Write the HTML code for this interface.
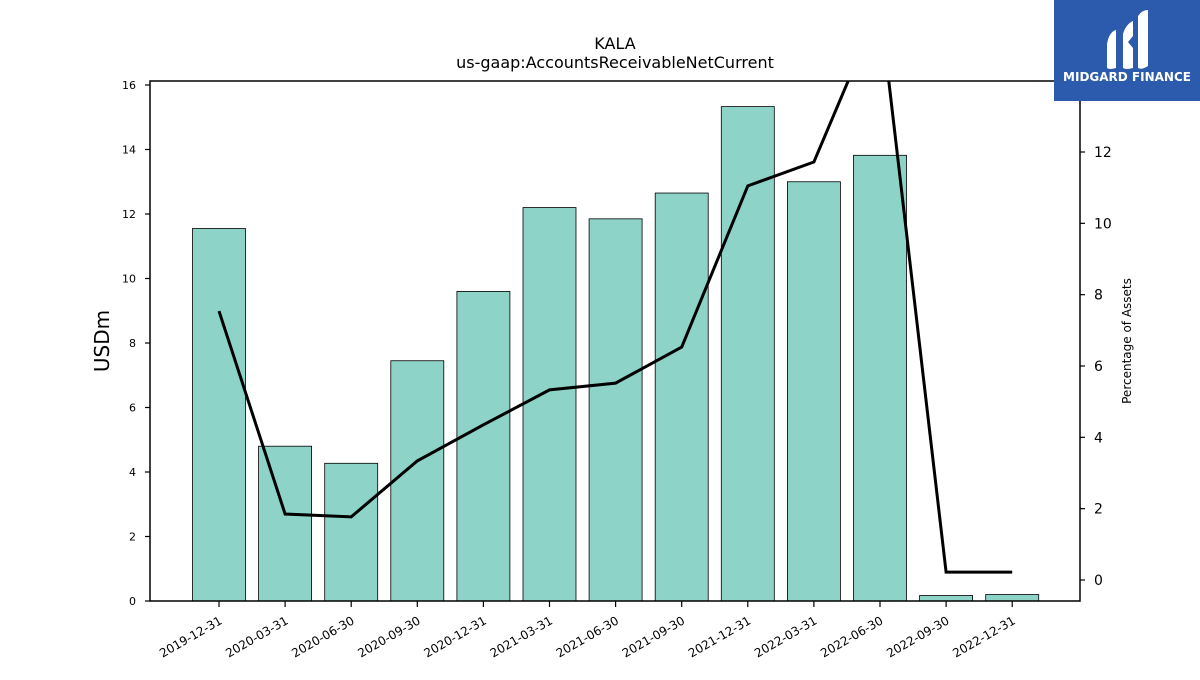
<!DOCTYPE html>
<html><head><meta charset="utf-8"><style>
body{margin:0;background:#fff;}
svg text{font-family:"DejaVu Sans","Liberation Sans",sans-serif;fill:#000;}
</style></head><body>
<svg width="1200" height="675" viewBox="0 0 1200 675" xmlns="http://www.w3.org/2000/svg">
<text x="615" y="49" font-size="16" text-anchor="middle">KALA</text>
<text x="615" y="68" font-size="16" text-anchor="middle">us-gaap:AccountsReceivableNetCurrent</text>
<g id="bars"></g>
<g id="line"></g>
<g id="axes"></g>
<text transform="translate(109,341) rotate(-90)" font-size="20" text-anchor="middle">USDm</text>
<text transform="translate(1131,341) rotate(-90)" font-size="12" text-anchor="middle">Percentage of Assets</text>
<g>
<rect x="1054" y="0" width="146" height="101" fill="#2c5aad"/>
<path d="M1107 44 Q1109 32 1116 30 L1116 68 Q1109 70 1107 68 Z" fill="#fff"/>
<path d="M1123 34 Q1126 24 1133 21 L1133 36 L1128 42 L1133 48 L1133 68 Q1126 70 1123 68 Z" fill="#fff"/>
<path d="M1138 16 Q1142 10 1148 10 L1148 66 Q1142 70 1138 68 Z" fill="#fff"/>
<text x="1127" y="81" font-size="12" font-weight="bold" text-anchor="middle" style="fill:#fff">MIDGARD FINANCE</text>
</g>
</svg>
<script>
const categories=["2019-12-31","2020-03-31","2020-06-30","2020-09-30","2020-12-31","2021-03-31","2021-06-30","2021-09-30","2021-12-31","2022-03-31","2022-06-30","2022-09-30","2022-12-31"];
const barValues=[11.55,4.8,4.27,7.45,9.6,12.2,11.85,12.65,15.33,13.0,13.82,0.17,0.2];
const pctValues=[7.54,1.85,1.77,3.34,4.35,5.33,5.52,6.53,11.05,11.72,16.1,0.22,0.22];
const leftTicks=[0,2,4,6,8,10,12,14,16];
const rightTicks=[0,2,4,6,8,10,12];
const NS="http://www.w3.org/2000/svg";
const X0=150,X1=1080,Y0=81,Y1=601;
const yL=v=>601-v*(516/16);
const yR=v=>580-v*(428/12);
const xC=i=>219+i*66.1;
function mk(t,a,p){const e=document.createElementNS(NS,t);for(const k in a)e.setAttribute(k,a[k]);p.appendChild(e);return e;}
const bars=document.getElementById('bars'),line=document.getElementById('line'),axes=document.getElementById('axes');
barValues.forEach((v,i)=>{
 const r=mk('rect',{x:xC(i)-26.5,y:yL(v),width:53,height:yL(0)-yL(v),fill:'#8dd3c7',stroke:'#000','stroke-width':0.8},bars);
 
 
});
const cp=mk('clipPath',{id:'cp'},line);mk('rect',{x:X0,y:Y0,width:X1-X0,height:Y1-Y0},cp);
const pl=mk('polyline',{points:pctValues.map((v,i)=>xC(i)+','+yR(v)).join(' '),fill:'none',stroke:'#000','stroke-width':3,'clip-path':'url(#cp)'},line);


const fr=mk('rect',{x:X0,y:Y0,width:X1-X0,height:Y1-Y0,fill:'none',stroke:'#000','stroke-width':1.5},axes);


leftTicks.forEach(v=>{
 mk('line',{x1:X0-5,x2:X0,y1:yL(v),y2:yL(v),stroke:'#000','stroke-width':1.2},axes);
 const t=mk('text',{x:X0-14,y:yL(v)+4,'font-size':11,'text-anchor':'end'},axes);t.textContent=v;
 
 
});
rightTicks.forEach(v=>{
 mk('line',{x1:X1,x2:X1+5,y1:yR(v),y2:yR(v),stroke:'#000','stroke-width':1.2},axes);
 const t=mk('text',{x:X1+14,y:yR(v)+5,'font-size':14},axes);t.textContent=v;
 
 
});
categories.forEach((c,i)=>{
 mk('line',{x1:xC(i),x2:xC(i),y1:Y1,y2:Y1+6,stroke:'#000','stroke-width':1.2},axes);
 const t=mk('text',{transform:`translate(${xC(i)+4},${Y1+22}) rotate(-30)`,'font-size':12,'text-anchor':'end'},axes);t.textContent=c;
 
 
});
</script>
</body></html>
